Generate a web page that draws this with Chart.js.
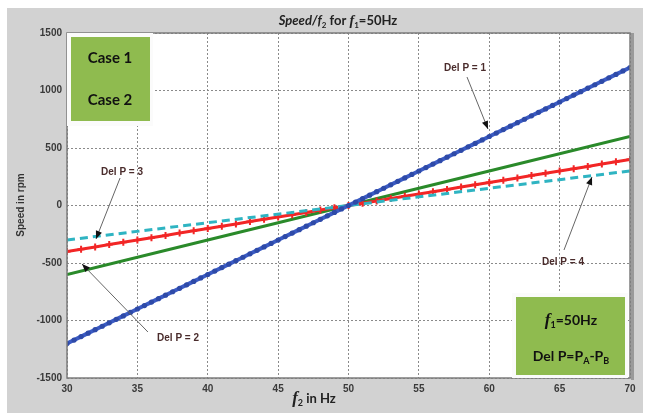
<!DOCTYPE html>
<html>
<head>
<meta charset="utf-8">
<script src="https://cdn.jsdelivr.net/npm/chart.js@4.4.0/dist/chart.umd.min.js"></script>
<style>
html,body{margin:0;padding:0;background:#fff;}
canvas{display:block;}
</style>
</head>
<body>
<canvas id="c" width="646" height="416"></canvas>
<script>
// ---- data ----
const freqHalfHz = [30,30.5,31,31.5,32,32.5,33,33.5,34,34.5,35,35.5,36,36.5,37,37.5,38,38.5,39,39.5,40,40.5,41,41.5,42,42.5,43,43.5,44,44.5,45,45.5,46,46.5,47,47.5,48,48.5,49,49.5,50,50.5,51,51.5,52,52.5,53,53.5,54,54.5,55,55.5,56,56.5,57,57.5,58,58.5,59,59.5,60,60.5,61,61.5,62,62.5,63,63.5,64,64.5,65,65.5,66,66.5,67,67.5,68,68.5,69,69.5,70];
const speedDelP1 = [-1200,-1170,-1140,-1110,-1080,-1050,-1020,-990,-960,-930,-900,-870,-840,-810,-780,-750,-720,-690,-660,-630,-600,-570,-540,-510,-480,-450,-420,-390,-360,-330,-300,-270,-240,-210,-180,-150,-120,-90,-60,-30,0,30,60,90,120,150,180,210,240,270,300,330,360,390,420,450,480,510,540,570,600,630,660,690,720,750,780,810,840,870,900,930,960,990,1020,1050,1080,1110,1140,1170,1200];
const freqIntHz = [30,31,32,33,34,35,36,37,38,39,40,41,42,43,44,45,46,47,48,49,50,51,52,53,54,55,56,57,58,59,60,61,62,63,64,65,66,67,68,69,70];
const speedDelP3 = [-400,-380,-360,-340,-320,-300,-280,-260,-240,-220,-200,-180,-160,-140,-120,-100,-80,-60,-40,-20,0,20,40,60,80,100,120,140,160,180,200,220,240,260,280,300,320,340,360,380,400];
const freqCoarseHz = [30,40,50,60,70];
const speedDelP2 = [-600,-300,0,300,600];
const speedDelP4 = [-300,-150,0,150,300];
const xTicks = [30,35,40,45,50,55,60,65,70];
const yTicks = [-1500,-1000,-500,0,500,1000,1500];
// annotation: label, label position, arrow tail, arrow tip (data units)
const annLabels = ['Del P = 1','Del P = 2','Del P = 3','Del P = 4'];
const annTextX = [58.28, 37.89, 33.91, 65.24];
const annTextY = [1196, -1152, 291, -491];
const annTailX = [58.42, 35.75, 33.77, 65.31];
const annTailY = [1117, -1100, 239, -387];
const annTipX  = [59.91, 31.07, 32.06, 67.30];
const annTipY  = [665, -509, -291, 248];

const pts = (xs, ys) => xs.map((x, i) => ({x, y: ys[i]}));

function drawRich(ctx, segs, cx, cy, color) {
  let w = 0;
  segs.forEach(s => { ctx.font = s.f; w += ctx.measureText(s.t).width; });
  let x = cx - w / 2;
  ctx.fillStyle = color;
  ctx.textBaseline = 'alphabetic';
  ctx.textAlign = 'left';
  segs.forEach(s => {
    ctx.font = s.f;
    ctx.fillText(s.t, x, cy + (s.dy || 0));
    x += ctx.measureText(s.t).width;
  });
}

function arrow(ctx, x1, y1, x2, y2) {
  ctx.save();
  ctx.strokeStyle = '#666';
  ctx.lineWidth = 1;
  ctx.beginPath(); ctx.moveTo(x1, y1); ctx.lineTo(x2, y2); ctx.stroke();
  const a = Math.atan2(y2 - y1, x2 - x1);
  const L = 8, W = 3.2;
  ctx.fillStyle = '#111';
  ctx.beginPath();
  ctx.moveTo(x2, y2);
  ctx.lineTo(x2 - L * Math.cos(a) + W * Math.sin(a), y2 - L * Math.sin(a) - W * Math.cos(a));
  ctx.lineTo(x2 - L * Math.cos(a) - W * Math.sin(a), y2 - L * Math.sin(a) + W * Math.cos(a));
  ctx.closePath(); ctx.fill();
  ctx.restore();
}

const deco = {
  id: 'deco',
  beforeDraw(chart) {
    const ctx = chart.ctx, a = chart.chartArea;
    ctx.save();
    ctx.fillStyle = '#ffffff';
    ctx.fillRect(0, 0, chart.width, chart.height);
    ctx.fillStyle = '#d2d2d2';
    ctx.fillRect(7, 8, 636, 405);
    ctx.fillStyle = '#ffffff';
    ctx.fillRect(a.left, a.top, a.right - a.left, a.bottom - a.top);
    ctx.restore();
  },
  afterDraw(chart) {
    const ctx = chart.ctx, a = chart.chartArea;
    const xs = chart.scales.x, ys = chart.scales.y;
    ctx.save();
    // frame
    ctx.strokeStyle = '#7c7c7c';
    ctx.lineWidth = 1.5;
    ctx.strokeRect(a.left, a.top, a.right - a.left, a.bottom - a.top);
    ctx.fillStyle = '#9a9a9a';
    ctx.fillRect(a.right + 1, a.top, 3, a.bottom - a.top + 2);

    // title
    drawRich(ctx, [
      {t: 'Speed/', f: 'italic bold 13px Lato'},
      {t: 'f', f: 'italic bold 13px Lato'},
      {t: '2', f: 'bold 8px Lato', dy: 3},
      {t: ' for ', f: 'bold 13px Lato'},
      {t: 'f', f: 'italic bold 14px "Liberation Serif"'},
      {t: '1', f: 'bold 8px Lato', dy: 3},
      {t: '=50Hz', f: 'bold 13px Lato'}
    ], 338, 25, '#222');

    // x label
    drawRich(ctx, [
      {t: 'f', f: 'italic bold 17px "Liberation Serif"'},
      {t: '2', f: 'bold 9px Lato', dy: 3},
      {t: ' in Hz', f: 'bold 13px Lato'}
    ], 314, 403, '#222');

    // y label
    ctx.save();
    ctx.translate(21, 205);
    ctx.rotate(-Math.PI / 2);
    ctx.font = 'bold 10px "Liberation Sans"';
    ctx.fillStyle = '#333';
    ctx.textAlign = 'center';
    ctx.textBaseline = 'middle';
    ctx.fillText('Speed in rpm', 0, 0);
    ctx.restore();

    // annotations
    for (let i = 0; i < annLabels.length; i++) {
      ctx.font = 'bold 10px "Liberation Sans"';
      ctx.fillStyle = '#4a2c2c';
      ctx.textAlign = 'center';
      ctx.textBaseline = 'middle';
      ctx.fillText(annLabels[i], xs.getPixelForValue(annTextX[i]), ys.getPixelForValue(annTextY[i]));
      arrow(ctx, xs.getPixelForValue(annTailX[i]), ys.getPixelForValue(annTailY[i]),
                 xs.getPixelForValue(annTipX[i]), ys.getPixelForValue(annTipY[i]));
    }

    // box 1 (top-left)
    const b1x = a.left, b1y = a.top;
    ctx.fillStyle = '#fbfbfb';
    ctx.fillRect(b1x, b1y, 86, 93);
    ctx.fillStyle = '#8fbb4f';
    ctx.fillRect(b1x + 4, b1y + 4, 79, 84);
    drawRich(ctx, [{t: 'Case 1', f: 'bold 15px Lato'}], b1x + 43, b1y + 30, '#111');
    drawRich(ctx, [{t: 'Case 2', f: 'bold 15px Lato'}], b1x + 43, b1y + 72, '#111');

    // box 2 (bottom-right)
    const b2x = a.right - 118, b2y = a.bottom - 85;
    ctx.fillStyle = '#fbfbfb';
    ctx.fillRect(b2x, b2y, 116, 85);
    ctx.fillStyle = '#8fbb4f';
    ctx.fillRect(b2x + 4, b2y + 4, 109, 78);
    drawRich(ctx, [
      {t: 'f', f: 'italic bold 17px "Liberation Serif"'},
      {t: '1', f: 'bold 9px Lato', dy: 3},
      {t: '=50Hz', f: 'bold 14px Lato'}
    ], b2x + 59, b2y + 32, '#111');
    drawRich(ctx, [
      {t: 'Del P=P', f: 'bold 14px Lato'},
      {t: 'A', f: 'bold 9px Lato', dy: 3},
      {t: '-P', f: 'bold 14px Lato'},
      {t: 'B', f: 'bold 9px Lato', dy: 3}
    ], b2x + 59, b2y + 68, '#111');
    ctx.restore();
  }
};

new Chart(document.getElementById('c'), {
  type: 'line',
  data: {
    datasets: [
      {data: pts(freqHalfHz, speedDelP1), borderColor: '#3b5bc4', backgroundColor: '#3b5bc4', borderWidth: 4,
       pointRadius: 2.6, pointBorderWidth: 0, pointBackgroundColor: '#2e4aa8', order: 1},
      {data: pts(freqCoarseHz, speedDelP2), borderColor: '#2a8a2a', borderWidth: 3, pointRadius: 0, order: 4},
      {data: pts(freqIntHz, speedDelP3), borderColor: '#f22626', borderWidth: 3, pointStyle: 'cross',
       pointRadius: 3.5, pointBorderColor: '#f22626', pointBorderWidth: 2, order: 3},
      {data: pts(freqCoarseHz, speedDelP4), borderColor: '#2fb4c2', borderWidth: 3, borderDash: [8, 5],
       pointRadius: 0, order: 2}
    ]
  },
  options: {
    responsive: false,
    animation: false,
    devicePixelRatio: 1,
    layout: {padding: {left: 0, top: 33, right: 16, bottom: 0}},
    plugins: {legend: {display: false}, tooltip: {enabled: false}, title: {display: false}},
    elements: {line: {tension: 0}},
    scales: {
      x: {
        type: 'linear', min: 30, max: 70,
        afterFit(s) { s.height = 38; },
        afterBuildTicks(s) { s.ticks = xTicks.map(v => ({value: v})); },
        grid: {color: '#8a8a8a', lineWidth: 1, drawTicks: false},
        border: {display: false, dash: [2, 2]},
        ticks: {autoSkip: false, maxRotation: 0, padding: 5, color: '#3a3a3a',
                callback: v => String(v),
                font: {family: '"Liberation Sans"', weight: 'bold', size: 10}}
      },
      y: {
        type: 'linear', min: -1500, max: 1500,
        afterFit(s) { s.width = 67; },
        afterBuildTicks(s) { s.ticks = yTicks.map(v => ({value: v})); },
        grid: {color: '#8a8a8a', lineWidth: 1, drawTicks: false},
        border: {display: false, dash: [2, 2]},
        ticks: {autoSkip: false, padding: 5, color: '#3a3a3a',
                callback: v => String(v),
                font: {family: '"Liberation Sans"', weight: 'bold', size: 10}}
      }
    }
  },
  plugins: [deco]
});
</script>
</body>
</html>
